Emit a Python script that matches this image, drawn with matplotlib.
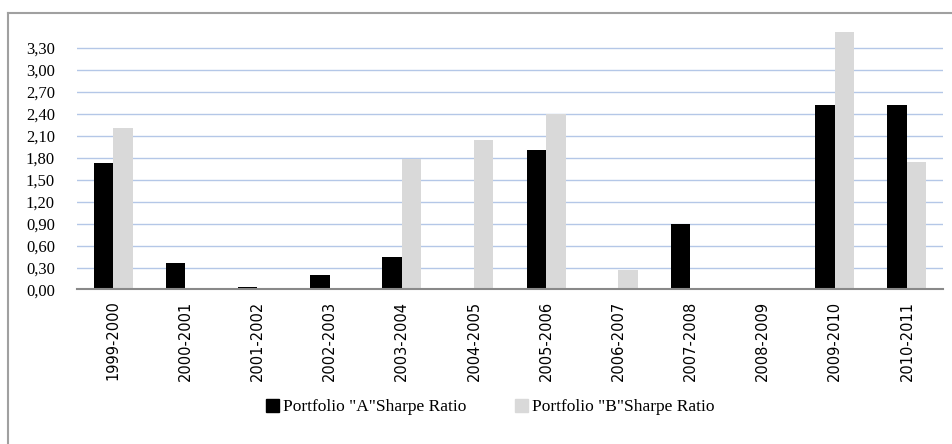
import numpy as np
import matplotlib
matplotlib.use("Agg")
import matplotlib.pyplot as plt
from matplotlib.lines import Line2D
from matplotlib.ticker import FuncFormatter

# data
periods = ["1999-2000", "2000-2001", "2001-2002", "2002-2003", "2003-2004", "2004-2005",
           "2005-2006", "2006-2007", "2007-2008", "2008-2009", "2009-2010", "2010-2011"]
sharpe_a = [1.72, 0.36, 0.03, 0.20, 0.44, 0.0, 1.90, 0.0, 0.89, 0.0, 2.52, 2.52]
sharpe_b = [2.20, 0.0, 0.0, 0.0, 1.78, 2.04, 2.39, 0.26, 0.0, 0.0, 3.51, 1.74]
yticks = [0.0, 0.3, 0.6, 0.9, 1.2, 1.5, 1.8, 2.1, 2.4, 2.7, 3.0, 3.3]
series_names = ['Portfolio "A"Sharpe Ratio', 'Portfolio "B"Sharpe Ratio']

fig = plt.figure(figsize=(9.52, 4.44), dpi=100)
ax = fig.add_axes([0.081, 0.348, 0.9095, 0.594])

x = np.arange(len(periods))
w = 0.27
ax.bar(x - w/2, sharpe_a, w, color="black", zorder=3, label=series_names[0])
ax.bar(x + w/2, sharpe_b, w, color="#D9D9D9", zorder=3, label=series_names[1])

ax.set_xlim(-0.5, len(periods) - 0.5)
ax.set_ylim(0, 3.6)
ax.set_yticks(yticks)
ax.yaxis.set_major_formatter(FuncFormatter(lambda v, p: f"{v:.2f}".replace(".", ",")))
ax.yaxis.grid(True, color="#B4C7E7", lw=1.0, zorder=0)
ax.set_axisbelow(True)
for s in ["top", "right", "left"]:
    ax.spines[s].set_visible(False)
ax.spines["bottom"].set_color("#898989")
ax.spines["bottom"].set_linewidth(1.5)
ax.spines["bottom"].set_zorder(4)
ax.tick_params(axis="both", length=0)
ax.tick_params(axis="y", pad=16)
ax.tick_params(axis="x", pad=8)
ax.set_xticks(x)
ax.set_xticklabels(periods, rotation=90, fontsize=10.5, family="DejaVu Sans")
for t in ax.get_yticklabels():
    t.set_family("Liberation Serif")
    t.set_fontsize(12)

fig.legend(handles=[plt.Rectangle((0, 0), 1, 1, color="black"),
                    plt.Rectangle((0, 0), 1, 1, color="#D9D9D9")],
           labels=series_names, loc="center", bbox_to_anchor=(0.515, 0.083),
           ncol=2, frameon=False, prop={"family": "Liberation Serif", "size": 12.5},
           handlelength=0.75, handleheight=0.75, handletextpad=0.25, columnspacing=2.8)

# outer chart frame (cropped in the reference: only left and top edges visible)
fig.add_artist(Line2D([8/952, 8/952], [0, 1 - 13/444], transform=fig.transFigure,
                      color="#A0A0A0", lw=1.5))
fig.add_artist(Line2D([8/952, 1], [1 - 13/444, 1 - 13/444], transform=fig.transFigure,
                      color="#A0A0A0", lw=1.5))

fig.savefig("out.png", dpi=100)
